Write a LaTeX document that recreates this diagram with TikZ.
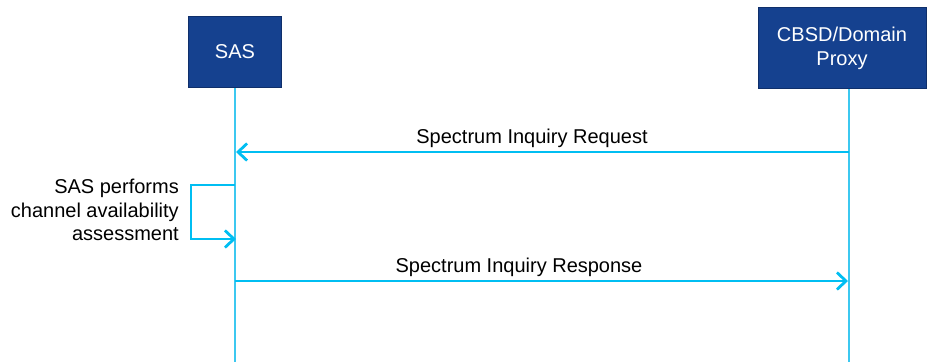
\documentclass[tikz,border=0pt]{standalone}
\usepackage{fontspec}
\setmainfont{Liberation Sans}
\usetikzlibrary{arrows.meta}
\definecolor{boxblue}{HTML}{15418F}
\definecolor{boxedge}{HTML}{0F2F6A}
\definecolor{msgcyan}{HTML}{00BEF2}
\definecolor{lifecyan}{HTML}{3CC8F0}
\begin{document}
\begin{tikzpicture}[x=1pt,y=-1pt,
  actor/.style={draw=boxedge,line width=0.8pt,fill=boxblue,text=white,align=center,
    font=\fontsize{20}{24}\selectfont,inner sep=0pt},
  lifeline/.style={draw=lifecyan,line width=1.4pt},
  msg/.style={draw=msgcyan,line width=2.8pt,-{Straight Barb[length=9pt,width=17pt,line width=2.8pt]}},
  lbl/.style={font=\fontsize{20}{24}\selectfont,text=black,inner sep=0pt}]
\useasboundingbox (0,0) rectangle (928,362);
\node[actor,minimum width=93pt,minimum height=71pt] (sas) at (235,52) {SAS};
\node[actor,minimum width=168pt,minimum height=81pt] (cbsd) at (842,48) {CBSD/Domain\\Proxy};
\coordinate (sasTop) at (235,88);
\coordinate (sasBot) at (235,362);
\coordinate (cbTop) at (849,89);
\coordinate (cbBot) at (849,362);
\draw[lifeline] (sasTop) -- (sasBot);
\draw[lifeline] (cbTop) -- (cbBot);
% request
\coordinate (reqS) at (849,152);
\coordinate (reqE) at (236,152);
\draw[msg] (reqS) -- (reqE);
\node[lbl,anchor=base] (reqL) at (532,143) {Spectrum Inquiry Request};
% self loop
\coordinate (loopS) at (235,185);
\coordinate (loopE) at (236,239);
\draw[msg] (loopS) -- (191,185) -- (191,239) -- (loopE);
\node[lbl,anchor=north east,align=right,font=\fontsize{20}{23.5}\selectfont] (loopL) at (179,179) {SAS performs\\channel availability\\assessment};
% response
\coordinate (resS) at (235,281);
\coordinate (resE) at (848,281);
\draw[msg] (resS) -- (resE);
\node[lbl,anchor=base] (resL) at (519,272) {Spectrum Inquiry Response};
\end{tikzpicture}
\end{document}
